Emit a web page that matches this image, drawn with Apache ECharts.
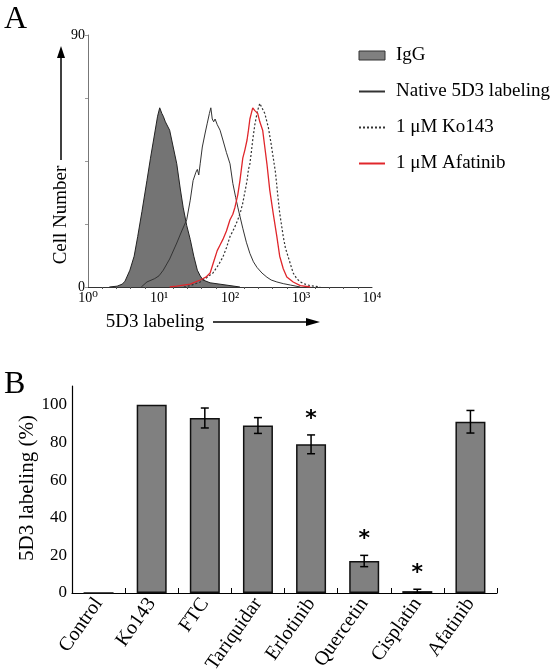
<!DOCTYPE html>
<html><head><meta charset="utf-8">
<script src="https://cdn.jsdelivr.net/npm/echarts@6/dist/echarts.min.js"></script>
<style>html,body{margin:0;padding:0;background:#fff}#c{width:550px;height:672px}</style>
</head><body><div id="c"></div>
<script>
// ---------- Panel A: flow cytometry histograms (x = log10 intensity, y = cell count)
const xTickLabels = ['10⁰','10¹','10²','10³','10⁴'];
const yTickLabelsA = {0:'0', 90:'90'};
const histIgG = [[0.30,0],[0.41,0.3],[0.48,1],[0.52,2],[0.59,6],[0.65,11],[0.70,18],[0.76,27],[0.83,38],[0.88,46],[0.94,55],[0.98,61],[1.01,64],[1.04,62],[1.06,61],[1.09,59],[1.11,58.5],[1.15,56],[1.20,50],[1.25,44],[1.30,35],[1.34,28.5],[1.39,22],[1.44,17],[1.49,11],[1.54,6],[1.58,4],[1.62,2.5],[1.72,1.5],[1.86,1],[2.0,0.5],[2.14,0]];
const histNative = [[0.75,0],[0.83,1.8],[0.94,3],[1.00,4],[1.06,6],[1.15,10],[1.25,15.7],[1.32,20],[1.39,24],[1.44,31],[1.48,38],[1.52,41],[1.54,42],[1.56,40],[1.58,44],[1.61,50],[1.65,55],[1.68,58.5],[1.71,62],[1.73,64],[1.75,60],[1.77,59],[1.79,60],[1.82,58],[1.84,58.5],[1.86,56],[1.90,52.5],[1.95,48],[2.00,44],[2.04,37],[2.08,32],[2.11,28.5],[2.18,21],[2.23,16],[2.28,12],[2.33,9],[2.38,7],[2.45,5],[2.52,3.5],[2.58,2.5],[2.66,1.8],[2.75,1.2],[2.85,0.7],[2.99,0]];
const histKo143 = [[1.35,0],[1.44,0.5],[1.58,1.8],[1.68,3.5],[1.76,5],[1.84,8],[1.90,10.7],[1.95,14],[2.00,18],[2.06,21],[2.11,24],[2.15,27],[2.18,30],[2.21,34],[2.24,38],[2.26,42],[2.28,44],[2.30,48],[2.32,52.5],[2.35,58],[2.38,62],[2.40,64],[2.42,65.6],[2.45,64],[2.49,62],[2.52,59],[2.54,57],[2.58,51],[2.61,46],[2.64,41],[2.66,36],[2.68,31],[2.70,26.4],[2.75,18],[2.78,14],[2.82,10.7],[2.89,5],[2.94,3],[2.99,1.8],[3.06,1],[3.13,0.5],[3.27,0]];
const histAfatinib = [[1.15,0],[1.25,0.3],[1.44,1],[1.58,2.5],[1.66,3.5],[1.72,5],[1.77,9],[1.82,13],[1.86,15],[1.90,17],[1.95,20],[2.00,24],[2.04,26],[2.07,28.5],[2.11,33],[2.14,38],[2.18,46],[2.21,49],[2.24,52.5],[2.26,56],[2.28,60],[2.30,62],[2.32,64],[2.35,63],[2.39,62],[2.42,59],[2.46,56],[2.49,50],[2.52,44],[2.56,34.6],[2.61,26],[2.66,18],[2.70,11],[2.75,6.5],[2.80,3.6],[2.89,1.8],[2.99,0.5],[3.13,0]];

// ---------- Panel B: bar chart
const categories = ['Control','Ko143','FTC','Tariquidar','Erlotinib','Quercetin','Cisplatin','Afatinib'];
const meanValues = [0, 100, 93, 89, 79, 17, 1, 91];
const errValues  = [0, 0, 5.3, 4.2, 5, 3, 1, 6];
const significant = [false, false, false, false, true, true, true, false];

const SERIF = '"Liberation Serif","Times New Roman","DejaVu Serif",serif';
const chart = echarts.init(document.getElementById('c'), null, {renderer:'canvas'});

const errData = categories.map((c,i)=>[i, meanValues[i], errValues[i], significant[i]?1:0]);
const noSym = {opacity:0, color:'rgba(0,0,0,0)', borderWidth:0};

const option = {
  backgroundColor:'#fff',
  animation:false,
  textStyle:{fontFamily:SERIF, color:'#000'},
  grid:[
    {left:88, top:35, width:284, height:252, containLabel:false, outerBoundsMode:'none'},
    {left:72, top:386, width:425, height:207, containLabel:false, outerBoundsMode:'none'}
  ],
  xAxis:[
    {type:'value', gridIndex:0, min:0, max:4, interval:1,
     axisLine:{lineStyle:{color:'#333', width:1}},
     axisTick:{show:false},
     minorTick:{show:true, splitNumber:5, length:2, lineStyle:{color:'#555'}},
     splitLine:{show:false},
     axisLabel:{fontFamily:SERIF, fontSize:14, color:'#000', margin:4,
       formatter:(v)=>xTickLabels[Math.round(v)]}},
    {type:'category', gridIndex:1, data:categories,
     axisLine:{lineStyle:{color:'#000', width:1.2}},
     axisTick:{show:true, inside:true, length:5, alignWithLabel:false, lineStyle:{color:'#000'}},
     axisLabel:{fontFamily:SERIF, fontSize:20, color:'#000', rotate:55, margin:7, interval:0}}
  ],
  yAxis:[
    {type:'value', gridIndex:0, min:0, max:90, interval:22.5,
     axisLine:{show:true, lineStyle:{color:'#777', width:1}},
     axisTick:{show:true, length:3, lineStyle:{color:'#999'}},
     splitLine:{show:false},
     axisLabel:{fontFamily:SERIF, fontSize:14, color:'#000', margin:3,
       formatter:(v)=> (yTickLabelsA[v]!==undefined ? yTickLabelsA[v] : '')}},
    {type:'value', gridIndex:1, min:0, max:110, interval:20,
     axisLine:{show:true, lineStyle:{color:'#000', width:1.2}},
     axisTick:{show:false},
     splitLine:{show:false},
     axisLabel:{fontFamily:SERIF, fontSize:17, color:'#000', margin:5,
       formatter:(v)=> v<=100 ? String(v) : ''}}
  ],
  legend:{
    orient:'vertical', left:353, top:41, itemGap:17, itemWidth:26, itemHeight:9,
    textStyle:{fontFamily:SERIF, fontSize:19, color:'#000', padding:[0,0,0,6]},
    data:[
      {name:'IgG', icon:'rect', itemStyle:{color:'#808080', borderColor:'#333', borderWidth:1}},
      {name:'Native 5D3 labeling', itemStyle:noSym},
      {name:'1 μM Ko143', itemStyle:noSym},
      {name:'1 μM Afatinib', itemStyle:noSym}
    ]
  },
  series:[
    {name:'IgG', type:'line', xAxisIndex:0, yAxisIndex:0, data:histIgG, symbol:'none',
     lineStyle:{color:'#222', width:1}, itemStyle:{color:'#808080'},
     areaStyle:{color:'#747474', opacity:1}, z:2},
    {name:'Native 5D3 labeling', type:'line', xAxisIndex:0, yAxisIndex:0, data:histNative, symbol:'none',
     lineStyle:{color:'#333', width:1}, itemStyle:{color:'#000'}, z:3},
    {name:'1 μM Ko143', type:'line', xAxisIndex:0, yAxisIndex:0, data:histKo143, symbol:'none',
     lineStyle:{color:'#333', width:1.2, type:[2,2]}, itemStyle:{color:'#333'}, z:3},
    {name:'1 μM Afatinib', type:'line', xAxisIndex:0, yAxisIndex:0, data:histAfatinib, symbol:'none',
     lineStyle:{color:'#e0262b', width:1.3}, itemStyle:{color:'#e0262b'}, z:4},
    {name:'bars', type:'bar', xAxisIndex:1, yAxisIndex:1, data:meanValues, barWidth:30,
     itemStyle:{color:'#808080', borderColor:'#111', borderWidth:1.5}},
    {name:'err', type:'custom', xAxisIndex:1, yAxisIndex:1, data:errData, z:5,
     renderItem:function(params, api){
       const i=api.value(0), m=api.value(1), e=api.value(2), s=api.value(3);
       const children=[];
       if(e>0){
         const t=api.coord([i,m+e]), b=api.coord([i,m-e]);
         const st={stroke:'#000', lineWidth:1.5};
         children.push({type:'line', shape:{x1:t[0],y1:t[1],x2:b[0],y2:b[1]}, style:st});
         children.push({type:'line', shape:{x1:t[0]-4,y1:t[1],x2:t[0]+4,y2:t[1]}, style:st});
         children.push({type:'line', shape:{x1:b[0]-4,y1:b[1],x2:b[0]+4,y2:b[1]}, style:st});
       }
       if(s){
         const t=api.coord([i,m+e]);
         children.push({type:'text', style:{text:'*', x:t[0], y:t[1]-16, fill:'#000',
           font:'bold 22px "DejaVu Sans",sans-serif', align:'center', verticalAlign:'middle'}});
       }
       return {type:'group', children};
     }}
  ],
  graphic:[
    {type:'text', left:4, top:4, style:{text:'A', font:'32px '+SERIF, fill:'#000'}},
    {type:'text', left:4, top:369, style:{text:'B', font:'32px '+SERIF, fill:'#000'}},
    {type:'text', x:61, y:215, rotation:Math.PI/2, style:{text:'Cell Number', font:'19px '+SERIF, fill:'#000', align:'center', verticalAlign:'middle'}},
    {type:'line', shape:{x1:61,y1:160,x2:61,y2:56}, style:{stroke:'#000', lineWidth:1.5}},
    {type:'polygon', shape:{points:[[61,46],[57,58],[65,58]]}, style:{fill:'#000'}},
    {type:'text', x:155, y:322, style:{text:'5D3 labeling', font:'19px '+SERIF, fill:'#000', align:'center', verticalAlign:'middle'}},
    {type:'line', shape:{x1:213,y1:322,x2:308,y2:322}, style:{stroke:'#000', lineWidth:1.5}},
    {type:'polygon', shape:{points:[[320,322],[306,318],[306,326]]}, style:{fill:'#000'}},
    {type:'text', x:27, y:488, rotation:Math.PI/2, style:{text:'5D3 labeling (%)', font:'21px '+SERIF, fill:'#000', align:'center', verticalAlign:'middle'}}
  ]
};
chart.setOption(option);
</script></body></html>
